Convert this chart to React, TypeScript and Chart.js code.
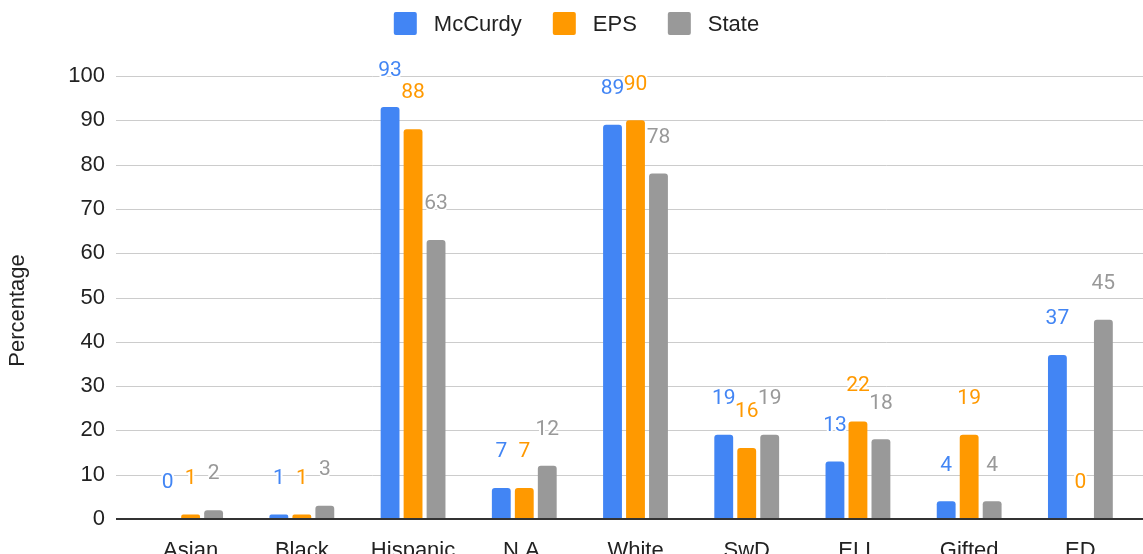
import React, { useEffect, useRef } from "react";
import { Chart, registerables } from "chart.js";

Chart.register(...registerables);

const categories = ["Asian", "Black", "Hispanic", "N.A.", "White", "SwD", "ELL", "Gifted", "ED"];
const seriesNames = ["McCurdy", "EPS", "State"];
const mccurdy = [0, 1, 93, 7, 89, 19, 13, 4, 37];
const eps = [1, 1, 88, 7, 90, 16, 22, 19, 0];
const state = [2, 3, 63, 12, 78, 19, 18, 4, 45];
const seriesColors = ["#4285f4", "#ff9900", "#999999"];
const yMin = 0;
const yMax = 100;
const yStep = 10;
const yTitle = "Percentage";

const FONT = "'Liberation Sans', Arial, sans-serif";
const LABEL_FONT = "Roboto, 'Liberation Sans', sans-serif";

// gridlines reach a bit left of the plot and out to the canvas edge
const gridPlugin = {
  id: "gridLines",
  beforeDatasetsDraw(chart: any) {
    const { ctx, chartArea } = chart;
    const y = chart.scales.y;
    ctx.save();
    ctx.strokeStyle = "#cccccc";
    ctx.lineWidth = 1;
    y.ticks.forEach((t: any) => {
      if (t.value === 0) return;
      const py = Math.round(y.getPixelForValue(t.value)) + 0.5;
      ctx.beginPath();
      ctx.moveTo(chartArea.left - 19, py);
      ctx.lineTo(chart.width, py);
      ctx.stroke();
    });

    // y axis title, sitting a little below the middle like the original
    ctx.translate(18, (chartArea.top + chartArea.bottom) / 2 + 13);
    ctx.rotate(-Math.PI / 2);
    ctx.font = `22px ${FONT}`;
    ctx.fillStyle = "#222222";
    ctx.textAlign = "center";
    ctx.textBaseline = "middle";
    ctx.fillText(yTitle, 0, 0);
    ctx.restore();
  },
  afterDatasetsDraw(chart: any) {
    const { ctx, chartArea } = chart;
    const y = chart.scales.y;
    const py = Math.round(y.getPixelForValue(0));
    ctx.save();
    ctx.strokeStyle = "#333333";
    ctx.lineWidth = 2;
    ctx.beginPath();
    ctx.moveTo(chartArea.left - 19, py);
    ctx.lineTo(chart.width, py);
    ctx.stroke();

    // value labels above each bar
    ctx.font = `21px ${LABEL_FONT}`;
    ctx.textAlign = "center";
    ctx.textBaseline = "middle";
    ctx.lineJoin = "round";
    chart.data.datasets.forEach((ds: any, i: number) => {
      const meta = chart.getDatasetMeta(i);
      meta.data.forEach((bar: any, j: number) => {
        const text = String(ds.data[j]);
        const ly = bar.y - 36;
        ctx.strokeStyle = "#ffffff";
        ctx.lineWidth = 4;
        ctx.strokeText(text, bar.x, ly);
        ctx.fillStyle = ds.backgroundColor;
        ctx.fillText(text, bar.x, ly);
      });
    });
    ctx.restore();
  },
};

const legendPlugin = {
  id: "topLegend",
  afterDraw(chart: any) {
    const { ctx } = chart;
    const box = 23;
    const gapText = 17;
    const gapItem = 31;
    ctx.save();
    ctx.font = `22px ${FONT}`;
    const widths = chart.data.datasets.map((ds: any) => ctx.measureText(ds.label).width);
    const total =
      widths.reduce((a: number, b: number) => a + b, 0) +
      widths.length * (box + gapText) +
      (widths.length - 1) * gapItem;
    let x = chart.width / 2 + 5 - total / 2;
    const cy = 23.5;
    chart.data.datasets.forEach((ds: any, i: number) => {
      ctx.fillStyle = ds.backgroundColor;
      ctx.beginPath();
      ctx.roundRect(x, cy - box / 2, box, box, 2);
      ctx.fill();
      ctx.fillStyle = "#222222";
      ctx.textAlign = "left";
      ctx.textBaseline = "middle";
      ctx.fillText(ds.label, x + box + gapText, cy + 1);
      x += box + gapText + widths[i] + gapItem;
    });
    ctx.restore();
  },
};

const App: React.FC = () => {
  const canvasRef = useRef<HTMLCanvasElement | null>(null);
  const chartRef = useRef<Chart<"bar", number[], string> | null>(null);

  useEffect(() => {
    if (!canvasRef.current) return;
    const ctx = canvasRef.current.getContext("2d");
    if (!ctx) return;
    if (chartRef.current) chartRef.current.destroy();

    const values = [mccurdy, eps, state];

    chartRef.current = new Chart(ctx, {
      type: "bar",
      data: {
        labels: categories,
        datasets: seriesNames.map((name, i) => ({
          label: name,
          data: values[i],
          backgroundColor: seriesColors[i],
          borderRadius: 3,
          categoryPercentage: 0.62,
          barPercentage: 0.82,
        })),
      },
      options: {
        animation: false,
        responsive: true,
        maintainAspectRatio: false,
        events: [],
        layout: {
          padding: { top: 76, right: 7, bottom: 0, left: 0 },
        },
        plugins: {
          legend: { display: false },
          tooltip: { enabled: false },
        },
        scales: {
          x: {
            grid: { display: false },
            border: { display: false },
            ticks: {
              color: "#222222",
              font: { family: FONT, size: 22 },
              padding: 11,
              maxRotation: 0,
              autoSkip: false,
            },
            afterFit: (scale: any) => {
              scale.height = 35;
            },
          },
          y: {
            min: yMin,
            max: yMax,
            // invisible grid: only its tick length is used to space the labels
            grid: { display: true, color: "rgba(0,0,0,0)", drawTicks: true, tickLength: 30 },
            border: { display: false },
            ticks: {
              stepSize: yStep,
              color: "#222222",
              font: { family: FONT, size: 22 },
              padding: 0,
            },
            afterFit: (scale: any) => {
              scale.width = 135;
            },
          },
        },
      },
      plugins: [gridPlugin, legendPlugin],
    });

    return () => {
      if (chartRef.current) {
        chartRef.current.destroy();
        chartRef.current = null;
      }
    };
  }, []);

  return (
    <div style={{ position: "fixed", left: 0, top: 0, width: 1143, height: 554, background: "#ffffff" }}>
      <canvas ref={canvasRef}></canvas>
    </div>
  );
};

export default App;
